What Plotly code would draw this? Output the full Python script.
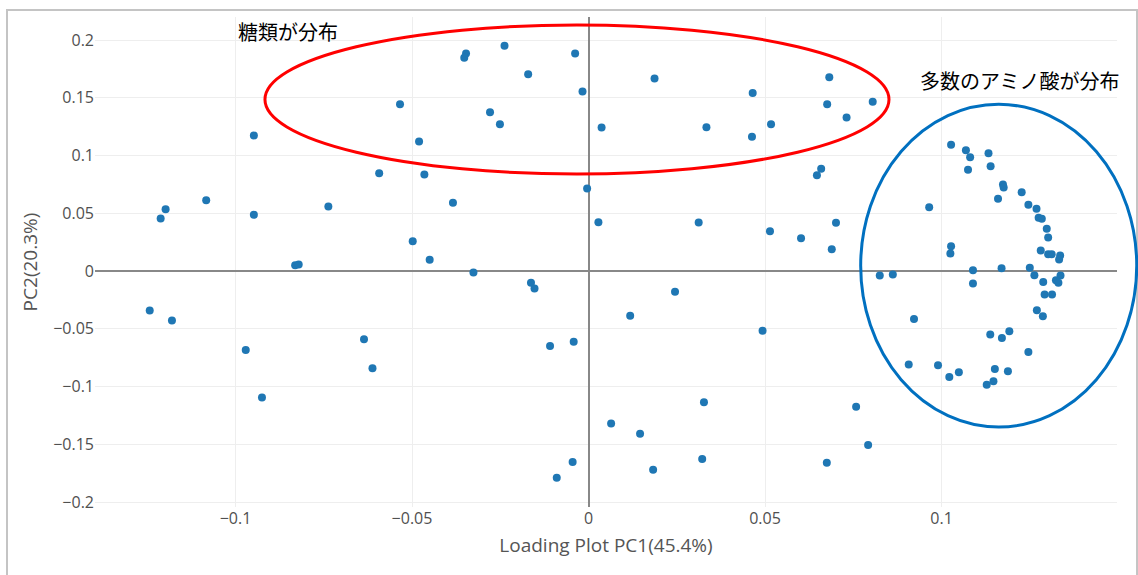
import plotly.graph_objects as go

pc1 = [-0.0948, -0.1083, -0.1212, -0.1198, -0.0948, -0.0737, -0.0831, -0.0821, -0.0593, -0.0238,
       -0.0347, -0.0352, -0.0038, -0.0171, -0.0017, 0.0187, -0.0534, -0.0279, -0.0251, -0.0480,
       0.0037, 0.0334, -0.0465, -0.0384, -0.0004, 0.0028, 0.0312, -0.0498, -0.0450, -0.0326,
       -0.0163, -0.0153, 0.0245, 0.0465, 0.0682, 0.0676, 0.0805, 0.0731, 0.0517, 0.0463,
       0.0659, 0.0647, 0.0514, 0.0602, 0.0701, 0.0689, 0.0965, 0.1027, 0.1069, 0.1081,
       0.1075, 0.1133, 0.1139, 0.1174, 0.1176, 0.1160, 0.1227, 0.1246, 0.1269, 0.1275,
       0.1284, 0.1298, 0.1302, 0.1281, 0.1302, 0.1312, 0.1336, 0.1333, 0.1027, 0.1025,
       0.1089, 0.1170, 0.1250, 0.1263, 0.0825, 0.0862, 0.1089, 0.1288, 0.1337, 0.1324,
       0.1331, 0.1292, 0.1313, 0.1270, 0.1287, 0.0922, 0.0493, 0.1138, 0.1171, 0.1192,
       0.1246, 0.0907, 0.0990, 0.1022, 0.1049, 0.1151, 0.1188, 0.1128, 0.1147, 0.0758,
       0.0792, 0.0675, -0.1243, -0.1180, -0.0971, -0.0925, -0.0636, -0.0612, -0.0042, -0.0109,
       0.0118, 0.0327, 0.0064, 0.0146, -0.0045, -0.0090, 0.0183, 0.0322]
pc2 = [0.1174, 0.0614, 0.0455, 0.0536, 0.0487, 0.0559, 0.0050, 0.0056, 0.0848, 0.1951,
       0.1885, 0.1847, 0.1885, 0.1705, 0.1555, 0.1668, 0.1445, 0.1376, 0.1272, 0.1122,
       0.1244, 0.1246, 0.0836, 0.0591, 0.0715, 0.0423, 0.0420, 0.0258, 0.0097, -0.0013,
       -0.0102, -0.0152, -0.0180, 0.1541, 0.1679, 0.1445, 0.1466, 0.1330, 0.1272, 0.1163,
       0.0886, 0.0830, 0.0345, 0.0284, 0.0418, 0.0189, 0.0553, 0.1094, 0.1047, 0.0986,
       0.0877, 0.1021, 0.0908, 0.0750, 0.0724, 0.0626, 0.0683, 0.0574, 0.0539, 0.0461,
       0.0452, 0.0366, 0.0290, 0.0178, 0.0146, 0.0146, 0.0134, 0.0100, 0.0215, 0.0152,
       0.0007, 0.0024, 0.0028, -0.0036, -0.0039, -0.0030, -0.0108, -0.0095, -0.0039, -0.0080,
       -0.0102, -0.0204, -0.0204, -0.0340, -0.0392, -0.0414, -0.0516, -0.0550, -0.0579, -0.0522,
       -0.0700, -0.0810, -0.0816, -0.0917, -0.0877, -0.0847, -0.0868, -0.0984, -0.0955, -0.1174,
       -0.1506, -0.1659, -0.0342, -0.0429, -0.0683, -0.1094, -0.0591, -0.0842, -0.0611, -0.0648,
       -0.0386, -0.1137, -0.1321, -0.1408, -0.1653, -0.1789, -0.1720, -0.1627]

x_ticks = [-0.1, -0.05, 0, 0.05, 0.1]
x_tick_labels = ["\u22120.1", "\u22120.05", "0", "0.05", "0.1"]
y_ticks = [-0.2, -0.15, -0.1, -0.05, 0, 0.05, 0.1, 0.15, 0.2]
y_tick_labels = ["\u22120.2", "\u22120.15", "\u22120.1", "\u22120.05", "0", "0.05", "0.1", "0.15", "0.2"]

x_title = "Loading Plot PC1(45.4%)"
y_title = "PC2(20.3%)"
label_sugar = "糖類が分布"
label_amino = "多数のアミノ酸が分布"

fig = go.Figure()
fig.add_trace(go.Scatter(
    x=pc1, y=pc2, mode="markers",
    marker=dict(size=8, color="#1f77b4"),
    showlegend=False,
))

fig.update_layout(
    width=1138, height=575,
    margin=dict(l=95, r=21, t=17, b=68),
    paper_bgcolor="white", plot_bgcolor="white",
    font=dict(family="Open Sans, sans-serif", color="#555"),
    xaxis=dict(
        range=[-0.1398, 0.1497],
        tickvals=x_ticks, ticktext=x_tick_labels,
        tickfont=dict(size=16, color="#505050"),
        showgrid=True, gridcolor="#eeeeee", gridwidth=1,
        zeroline=True, zerolinecolor="#888888", zerolinewidth=2,
        showline=False, ticks="",
        title=dict(text=x_title, font=dict(size=19, color="#555"), standoff=10),
    ),
    yaxis=dict(
        range=[-0.2043, 0.2200],
        tickvals=y_ticks, ticktext=y_tick_labels,
        tickfont=dict(size=16, color="#505050"),
        showgrid=True, gridcolor="#eeeeee", gridwidth=1,
        zeroline=True, zerolinecolor="#888888", zerolinewidth=2,
        showline=False, ticks="",
        title=dict(text=y_title, font=dict(size=19, color="#555"), standoff=10),
    ),
    shapes=[
        dict(type="rect", xref="paper", yref="paper",
             x0=-0.0861, x1=1.0196, y0=-0.20, y1=1.0143,
             line=dict(color="#c4c4c4", width=2), layer="below"),
        dict(type="circle", xref="paper", yref="paper",
             x0=0.1663, x1=0.7769, y0=0.6796, y1=0.9837,
             line=dict(color="#ff0000", width=3)),
        dict(type="circle", xref="paper", yref="paper",
             x0=0.7492, x1=1.0193, y0=0.1633, y1=0.8218,
             line=dict(color="#0070c0", width=3)),
    ],
    annotations=[
        dict(text=label_sugar, xref="paper", yref="paper", x=0.1377, y=0.970,
             xanchor="left", yanchor="middle", showarrow=False,
             font=dict(family="Noto Sans CJK JP", size=20, color="black")),
        dict(text=label_amino, xref="paper", yref="paper", x=0.8056, y=0.8694,
             xanchor="left", yanchor="middle", showarrow=False,
             font=dict(family="Noto Sans CJK JP", size=20, color="black")),
    ],
)

fig.write_html("out.html", config={"displayModeBar": False},
               post_script="document.body.style.margin='0';document.body.style.overflow='hidden';")
